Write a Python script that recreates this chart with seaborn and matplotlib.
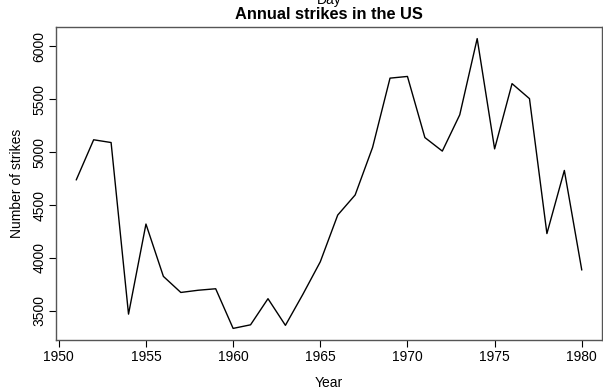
import pandas as pd
import numpy as np
import matplotlib
matplotlib.use("Agg")
import matplotlib.pyplot as plt
import seaborn as sns

# Annual strikes in the US, 1951-1980
years = list(range(1951, 1981))
strikes = [4737, 5117, 5091, 3468, 4320, 3825, 3673, 3694, 3708, 3333,
           3367, 3614, 3362, 3655, 3963, 4405, 4595, 5045, 5700, 5716,
           5138, 5010, 5353, 6074, 5031, 5648, 5506, 4230, 4827, 3885]
x_ticks = [1950, 1955, 1960, 1965, 1970, 1975, 1980]
y_ticks = [3500, 4000, 4500, 5000, 5500, 6000]

df = pd.DataFrame({'Year': years, 'Strikes': strikes})

sns.set_style('white')
plt.rcParams['font.family'] = ['Liberation Sans', 'DejaVu Sans']
plt.rcParams['text.color'] = 'black'
plt.rcParams['axes.labelcolor'] = 'black'

fig = plt.figure(figsize=(6.03, 3.92), dpi=100)
ax = fig.add_axes([56 / 603, 52 / 392, 546 / 603, 313 / 392])

sns.lineplot(data=df, x='Year', y='Strikes', ax=ax, color='black', linewidth=1.0)

# R style 4% padding
xr = max(years) - min(years)
yr = max(strikes) - min(strikes)
ax.set_xlim(min(years) - 0.04 * xr, max(years) + 0.04 * xr)
ax.set_ylim(min(strikes) - 0.04 * yr, max(strikes) + 0.04 * yr)

ax.set_xticks(x_ticks)
ax.set_yticks(y_ticks)
ax.set_yticklabels([str(v) for v in y_ticks], rotation=90, va='center')
ax.tick_params(axis='both', direction='out', length=5, width=0.8,
               colors='black', labelsize=10, pad=2, left=True, bottom=True)
for s in ax.spines.values():
    s.set_color('#555555')
    s.set_linewidth(1.0)

ax.set_xlabel('Year', fontsize=10, labelpad=9)
ax.set_ylabel('Number of strikes', fontsize=10, labelpad=6)
ax.set_title('Annual strikes in the US', fontsize=11.8, fontweight='bold', pad=6)
fig.text(329 / 603, 0.999, 'Day', ha='center', va='center', fontsize=10)

fig.savefig('out.png', dpi=100)
